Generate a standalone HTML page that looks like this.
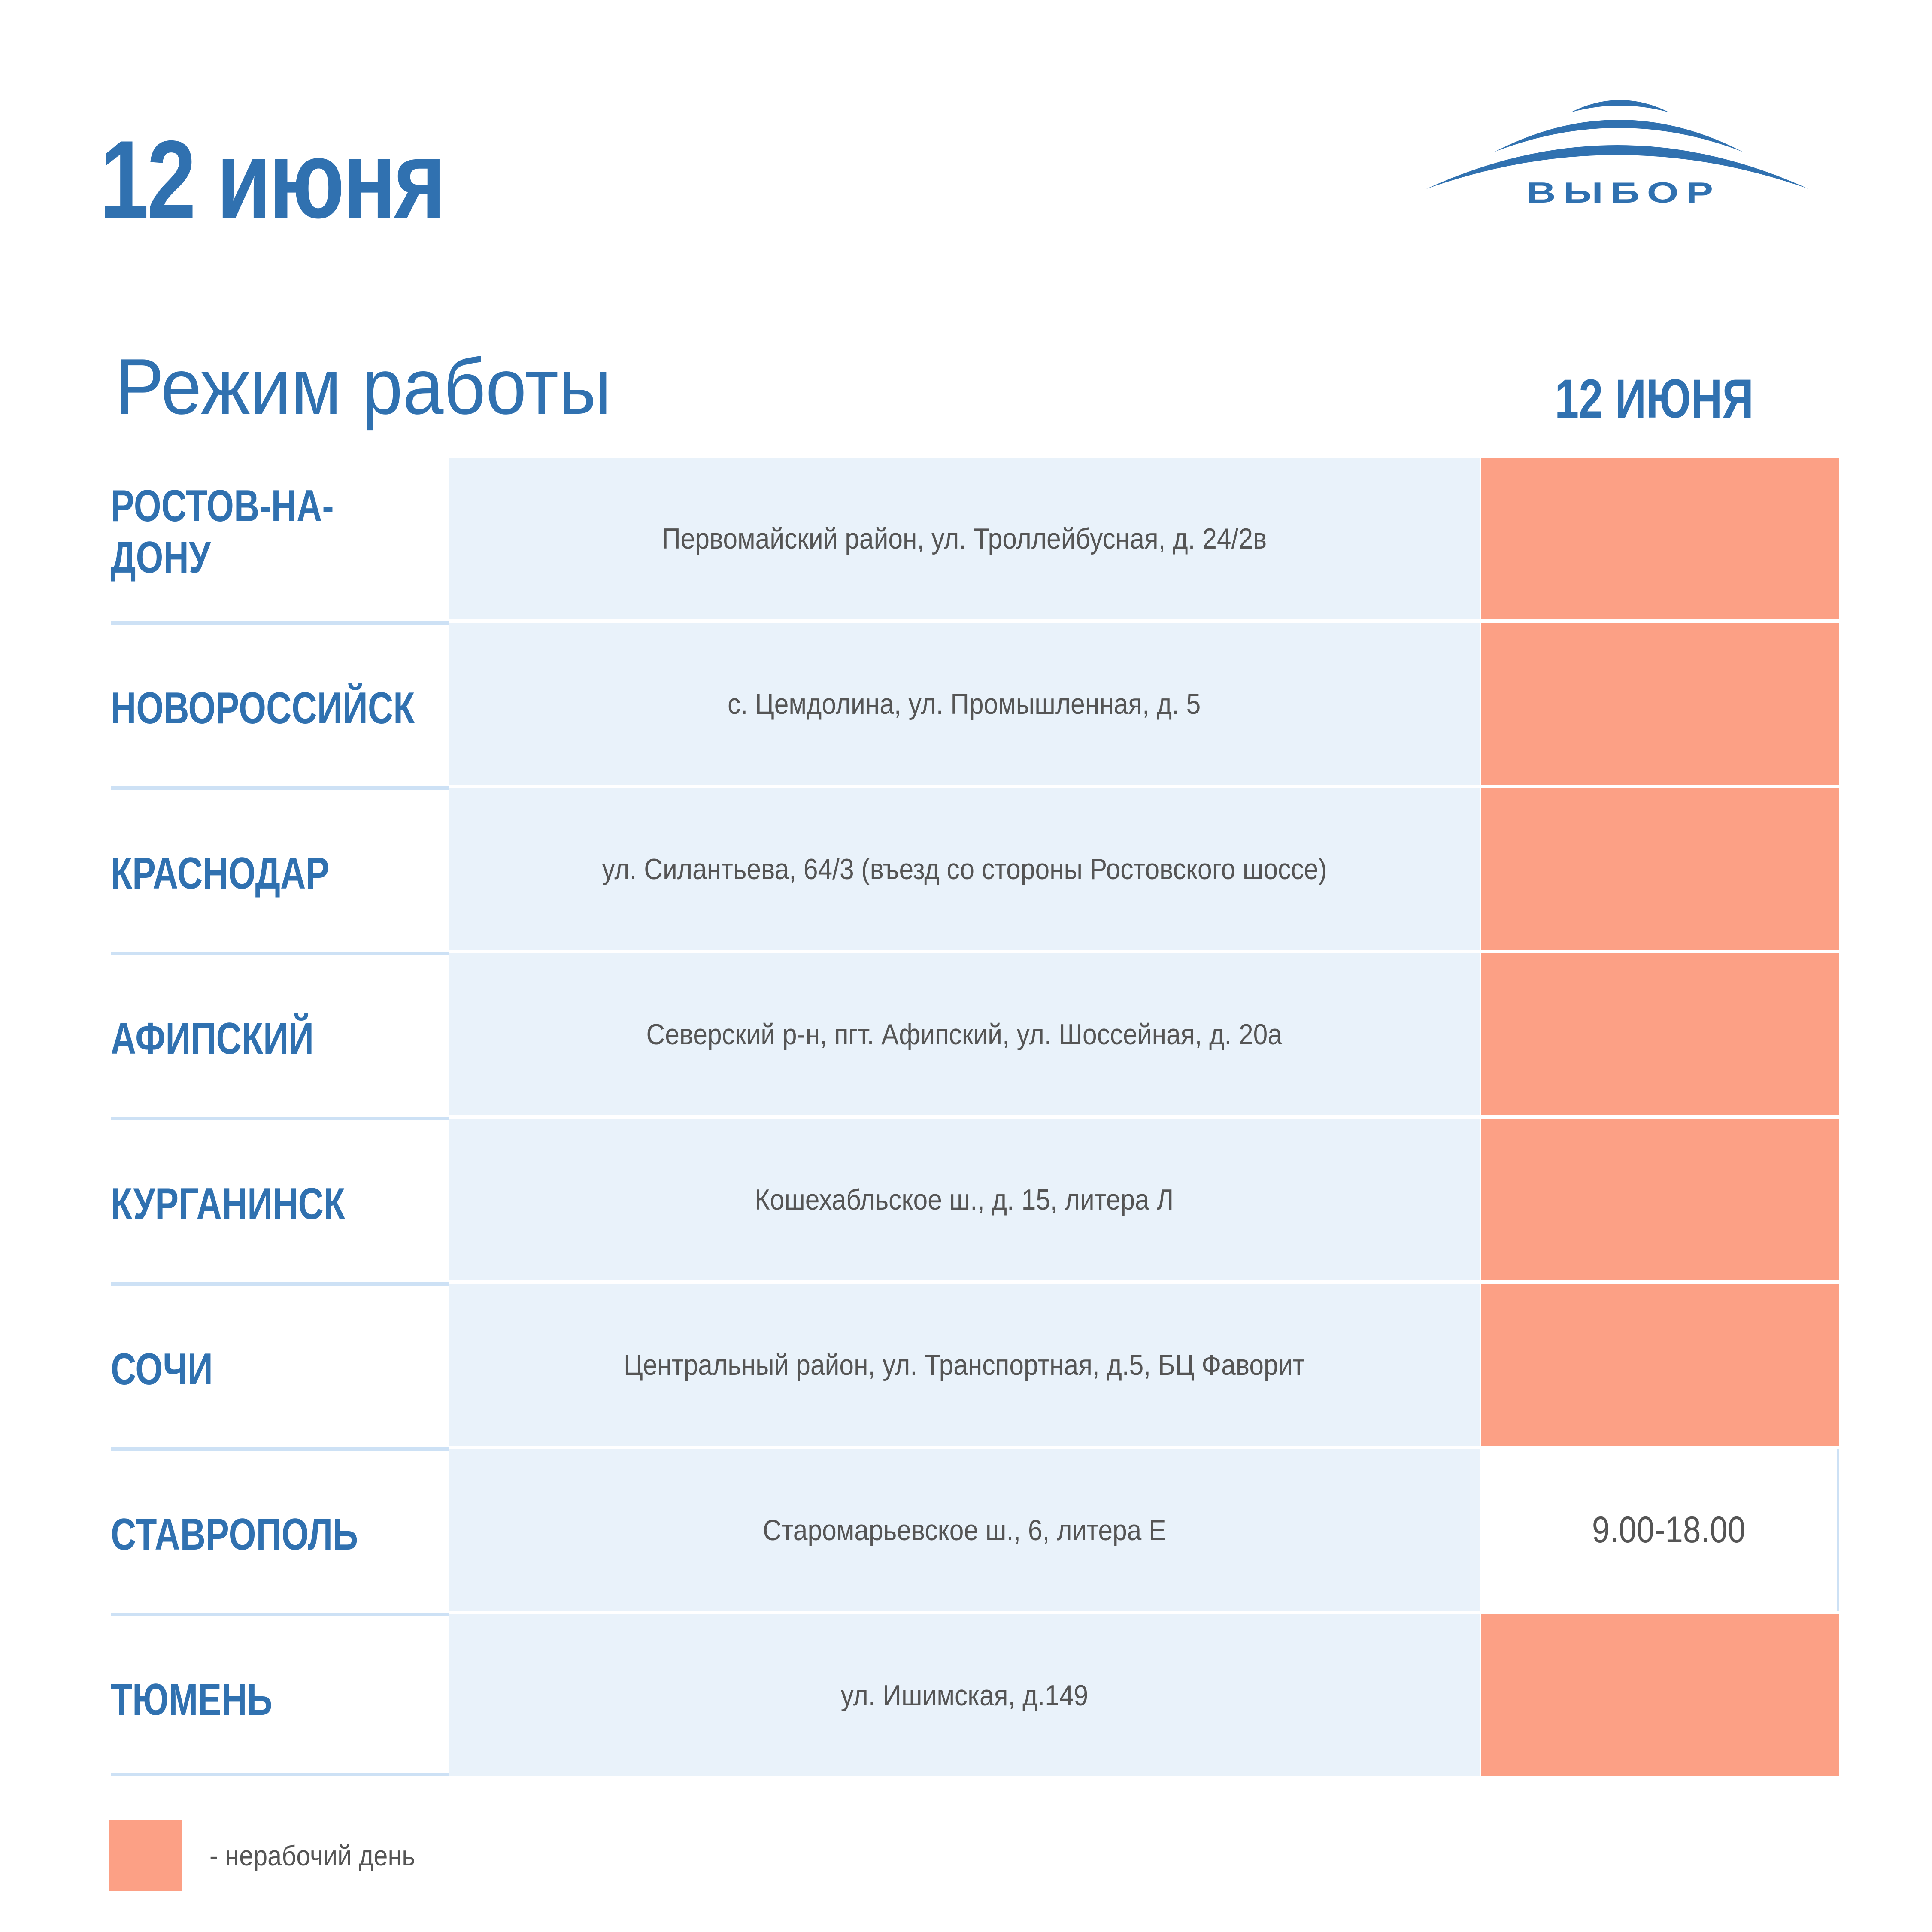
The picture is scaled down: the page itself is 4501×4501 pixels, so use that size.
<!DOCTYPE html>
<html><head><meta charset="utf-8"><style>
*{margin:0;padding:0;box-sizing:border-box}
body{width:4501px;height:4501px;background:#fff;position:relative;overflow:hidden;font-family:"Liberation Sans",sans-serif}
.a{position:absolute}
.c{display:inline-block;white-space:nowrap}
.city{position:absolute;left:258px;width:760px;display:flex;align-items:center;color:#3071b0;font-weight:bold;font-size:104px;line-height:120px}
.city span{transform:scaleX(0.79);transform-origin:left center;display:inline-block;white-space:nowrap}
.band{position:absolute;left:1045px;width:2403px;background:#e9f2fa;display:flex;align-items:center;justify-content:center;color:#555;font-size:68px}
.band span{transform:scaleX(0.89);display:inline-block;white-space:nowrap}
.or{position:absolute;left:3451px;width:834px;background:#fca085}
.sep{position:absolute;left:258px;width:787px;height:8px;background:#cde1f5}
</style></head><body>
<div class="a" style="left:232px;top:268px;font-size:258px;font-weight:bold;color:#3071b0;line-height:300px"><span class="c" style="transform:scaleX(0.80);transform-origin:left;letter-spacing:-6px">12 июня</span></div>
<svg class="a" style="left:0;top:0" width="4501" height="600">
<path d="M3323,440 Q3768,236 4213,440 Q3768,282 3323,440Z" fill="#3071b0"/>
<path d="M3481,354 Q3771,204 4061,354 Q3771,242 3481,354Z" fill="#3071b0"/>
<path d="M3659,262 Q3774,204 3889,262 Q3774,230 3659,262Z" fill="#3071b0"/>
<text x="3782" y="472" text-anchor="middle" font-family="Liberation Sans" font-weight="bold" font-size="68" fill="#3071b0" letter-spacing="12" transform="translate(3782,0) scale(1.4,1) translate(-3782,0)">ВЫБОР</text>
</svg>
<div class="a" style="left:268px;top:790px;font-size:184px;color:#3071b0;line-height:220px"><span class="c" style="transform:scaleX(0.93);transform-origin:left;">Режим работы</span></div>
<div class="a" style="left:3622px;top:850px;font-size:128px;font-weight:bold;color:#3071b0;line-height:160px"><span class="c" style="transform:scaleX(0.79);transform-origin:left;">12 ИЮНЯ</span></div>

<div class="city" style="top:1050px;height:377px;align-items:center"><span>РОСТОВ-НА-<br>ДОНУ</span></div>
<div class="band" style="top:1066px;height:377px"><span>Первомайский район, ул. Троллейбусная, д. 24/2в</span></div>
<div class="or" style="top:1066px;height:377px"></div>
<div class="sep" style="top:1447px"></div>

<div class="city" style="top:1461px;height:377px"><span>НОВОРОССИЙСК</span></div>
<div class="band" style="top:1451px;height:377px"><span>с. Цемдолина, ул. Промышленная, д. 5</span></div>
<div class="or" style="top:1451px;height:377px"></div>
<div class="sep" style="top:1832px"></div>

<div class="city" style="top:1846px;height:377px"><span>КРАСНОДАР</span></div>
<div class="band" style="top:1836px;height:377px"><span>ул. Силантьева, 64/3 (въезд со стороны Ростовского шоссе)</span></div>
<div class="or" style="top:1836px;height:377px"></div>
<div class="sep" style="top:2217px"></div>

<div class="city" style="top:2231px;height:377px"><span>АФИПСКИЙ</span></div>
<div class="band" style="top:2221px;height:377px"><span>Северский р-н, пгт. Афипский, ул. Шоссейная, д. 20а</span></div>
<div class="or" style="top:2221px;height:377px"></div>
<div class="sep" style="top:2602px"></div>

<div class="city" style="top:2616px;height:377px"><span>КУРГАНИНСК</span></div>
<div class="band" style="top:2606px;height:377px"><span>Кошехабльское ш., д. 15, литера Л</span></div>
<div class="or" style="top:2606px;height:377px"></div>
<div class="sep" style="top:2987px"></div>

<div class="city" style="top:3001px;height:377px"><span>СОЧИ</span></div>
<div class="band" style="top:2991px;height:377px"><span>Центральный район, ул. Транспортная, д.5, БЦ Фаворит</span></div>
<div class="or" style="top:2991px;height:377px"></div>
<div class="sep" style="top:3372px"></div>

<div class="city" style="top:3386px;height:377px"><span>СТАВРОПОЛЬ</span></div>
<div class="band" style="top:3376px;height:377px"><span>Старомарьевское ш., 6, литера Е</span></div>
<div class="a" style="left:3451px;top:3376px;width:834px;height:377px;border-right:5px solid #cde1f5;display:flex;align-items:center;justify-content:center;color:#555;font-size:86px;padding-left:44px"><span class="c" style="transform:scaleX(0.87)">9.00-18.00</span></div>
<div class="sep" style="top:3757px"></div>

<div class="city" style="top:3771px;height:377px"><span>ТЮМЕНЬ</span></div>
<div class="band" style="top:3761px;height:377px"><span>ул. Ишимская, д.149</span></div>
<div class="or" style="top:3761px;height:377px"></div>
<div class="sep" style="top:4130px"></div>

<div class="a" style="left:255px;top:4239px;width:170px;height:166px;background:#fca085"></div>
<div class="a" style="left:488px;top:4285px;font-size:66px;color:#555;line-height:76px"><span class="c" style="transform:scaleX(0.9);transform-origin:left">- нерабочий день</span></div>
</body></html>
